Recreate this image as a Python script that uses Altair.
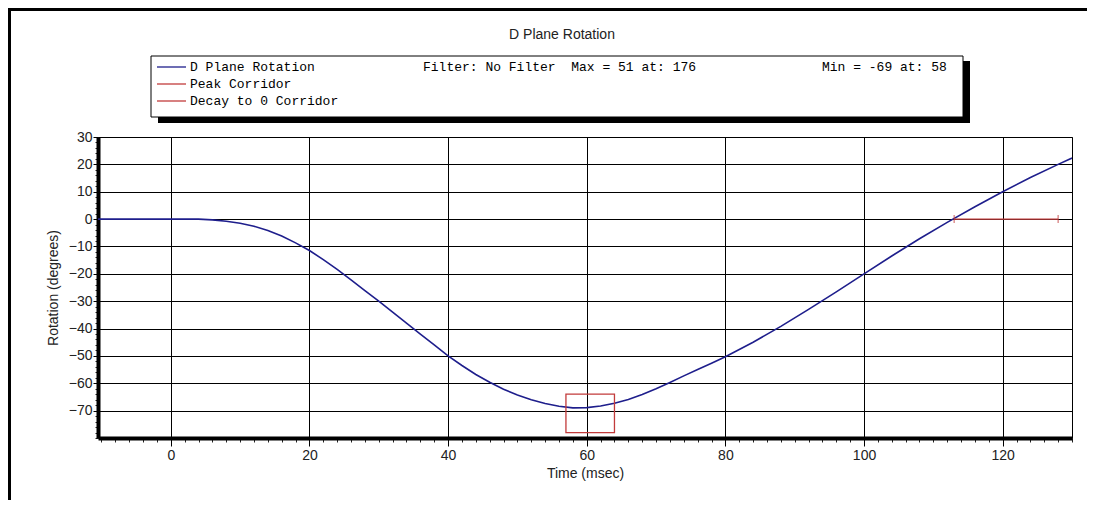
import altair as alt
import pandas as pd

# ---- data ----
time_ms = [-10.5, 0, 4, 6, 8, 10, 12, 14, 16, 18, 20, 22, 24, 26, 28, 30, 32, 34, 36, 38,
           40, 42, 44, 46, 48, 50, 52, 54, 56, 58, 60, 62, 64, 66, 68, 70, 72, 74, 76, 78,
           80, 84, 88, 92, 96, 100, 104, 108, 112, 116, 120, 124, 128, 130]
rotation_deg = [0, 0, 0, -0.3, -0.8, -1.5, -2.6, -4.2, -6.2, -8.7, -11.5, -14.8, -18.4, -22.2,
                -26.1, -30, -34, -38, -42, -46, -50, -53.5, -56.8, -59.6, -62.2, -64.3, -66,
                -67.4, -68.4, -69, -68.9, -68.3, -67.3, -65.9, -64.1, -62, -59.7, -57.3, -55,
                -52.7, -50.3, -45, -39.2, -33, -26.6, -20, -13.5, -7.2, -1.2, 4.5, 10, 15.2,
                20, 22.3]
peak_x = [57, 64]
peak_y = [-78, -64]
decay_x = [113, 128]
decay_y = [0, 0]
legend_labels = ["D Plane Rotation", "Peak Corridor", "Decay to 0 Corridor"]
stats_text = ["Filter: No Filter\u00a0 Max = 51 at: 176", "Min = -69 at: 58"]
title_text = "D Plane Rotation"
x_ticks = list(range(0, 121, 20))
y_ticks = list(range(-70, 31, 10))
x_minor = list(range(-10, 131, 2))
y_minor = list(range(-80, 31, 2))

BLUE = "#1e1e8c"
RED = "#c23b3b"
SANS = "Liberation Sans Narrow, Liberation Sans, Arial, sans-serif"
MONO = "Liberation Mono, DejaVu Sans Mono, monospace"

curve_df = pd.DataFrame({"t": time_ms, "r": rotation_deg})
peak_df = pd.DataFrame({"x1": [peak_x[0]], "x2": [peak_x[1]], "y1": [peak_y[0]], "y2": [peak_y[1]]})
decay_df = pd.DataFrame({"t": decay_x, "r": decay_y})
decay_seg = pd.DataFrame({"x1": [decay_x[0]], "x2": [decay_x[1]], "y": [decay_y[0]]})
one = pd.DataFrame({"k": [0]})

xs = alt.Scale(domain=[-10.5, 130], nice=False, zero=False)
ys = alt.Scale(domain=[-80, 30], nice=False, zero=False)

xaxis = alt.Axis(values=x_ticks, grid=True, gridColor="black", gridOpacity=1, gridWidth=1,
                 domainColor="black", domainWidth=4, tickColor="black", tickSize=8, tickWidth=1,
                 labelFont=SANS, labelFontSize=14, labelColor="#222", labelPadding=2,
                 labelFlush=False, title="Time (msec)", titleFont=SANS, titleFontSize=14,
                 titleFontWeight="normal", titleColor="#222", titlePadding=4, orient="bottom")
yaxis = alt.Axis(values=y_ticks, grid=True, gridColor="black", gridOpacity=1, gridWidth=1,
                 domainColor="black", domainWidth=4, tickColor="black", tickSize=5, tickWidth=1,
                 labelFont=SANS, labelFontSize=14, labelColor="#222", labelPadding=1,
                 labelFlush=False, title="Rotation (degrees)", titleFont=SANS, titleFontSize=14,
                 titleFontWeight="normal", titleColor="#222", titlePadding=8, orient="left")

curve = alt.Chart(curve_df).mark_line(color=BLUE, strokeWidth=1.6, clip=True).encode(
    x=alt.X("t:Q", scale=xs, axis=xaxis),
    y=alt.Y("r:Q", scale=ys, axis=yaxis),
)

minor = alt.Chart(curve_df).mark_point(opacity=0).encode(
    x=alt.X("t:Q", scale=xs, axis=alt.Axis(values=x_minor, labels=False, grid=False, domain=False,
                                             ticks=True, tickSize=4, tickColor="#222",
                                             title=None, orient="bottom")),
    y=alt.Y("r:Q", scale=ys, axis=alt.Axis(values=y_minor, labels=False, grid=False, domain=False,
                                             ticks=True, tickSize=3, tickColor="#222",
                                             title=None, orient="left")),
)

peak = alt.Chart(peak_df).mark_rect(fillOpacity=0, stroke=RED, strokeWidth=1.3).encode(
    x=alt.X("x1:Q", axis=None), x2="x2:Q", y=alt.Y("y1:Q", axis=None), y2="y2:Q"
)
decay = alt.Chart(decay_seg).mark_rule(color=RED, strokeWidth=1.3).encode(
    x=alt.X("x1:Q", axis=None), x2="x2:Q", y=alt.Y("y:Q", axis=None)
)
decay_ticks = alt.Chart(decay_df).mark_tick(color=RED, orient="vertical", size=8, thickness=1.2).encode(
    x=alt.X("t:Q", axis=None), y=alt.Y("r:Q", axis=None)
)

# ---- decorations (pixel positions relative to plot origin) ----
frame_top = alt.Chart(one).mark_rule(color="black", strokeWidth=3).encode(
    x=alt.value(-90), x2=alt.value(990), y=alt.value(-127.5))
frame_left = alt.Chart(one).mark_rule(color="black", strokeWidth=3).encode(
    x=alt.value(-88.5), y=alt.value(-129), y2=alt.value(363))

title = alt.Chart(one).mark_text(text=title_text, font=SANS, fontSize=14, color="#222",
                                 align="center", baseline="middle").encode(
    x=alt.value(464), y=alt.value(-102))

shadow = alt.Chart(one).mark_rect(color="black").encode(
    x=alt.value(60), x2=alt.value(872), y=alt.value(-76), y2=alt.value(-14))
box = alt.Chart(one).mark_rect(fill="white", stroke="black", strokeWidth=1).encode(
    x=alt.value(53), x2=alt.value(865), y=alt.value(-81), y2=alt.value(-20))

leg_rows = [-70, -53, -36]
leg_colors = [BLUE, RED, RED]
legend_layers = []
for lab, yy, col in zip(legend_labels, leg_rows, leg_colors):
    legend_layers.append(alt.Chart(one).mark_rule(color=col, strokeWidth=1.3).encode(
        x=alt.value(59), x2=alt.value(88), y=alt.value(yy)))
    legend_layers.append(alt.Chart(one).mark_text(text=lab, font=MONO, fontSize=13, color="#000",
                                                  align="left", baseline="middle").encode(
        x=alt.value(92), y=alt.value(yy)))
stat1 = alt.Chart(one).mark_text(text=stats_text[0], font=MONO, fontSize=13, color="#000",
                                 align="left", baseline="middle").encode(x=alt.value(325), y=alt.value(-70))
stat2 = alt.Chart(one).mark_text(text=stats_text[1], font=MONO, fontSize=13, color="#000",
                                 align="left", baseline="middle").encode(x=alt.value(724), y=alt.value(-70))

chart = alt.layer(
    minor, curve, peak, decay, decay_ticks,
    frame_top, frame_left, title, shadow, box, *legend_layers, stat1, stat2
).resolve_axis(x="independent", y="independent").properties(
    width=974, height=301,
    autosize=alt.AutoSizeParams(type="none"),
    padding={"left": 90, "top": 129, "right": 15, "bottom": 62},
    background="white",
).configure_view(stroke="black", strokeWidth=1)

chart.save("out.html", embed_options={"renderer": "svg", "actions": False})
